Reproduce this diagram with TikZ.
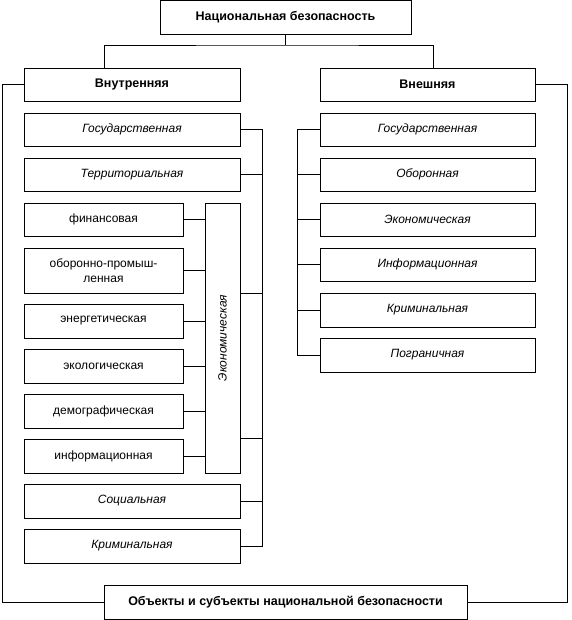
\documentclass[tikz,border=0pt]{standalone}
\usepackage{fontspec}
\setmainfont{Liberation Sans}
\usepackage{tikz}

\begin{document}
\begin{tikzpicture}[x=1pt,y=-1pt,
titulo/.style={draw=black,line width=0.9pt,fill=white,minimum width=215pt,minimum height=34pt,align=center,font=\fontsize{12.5}{14}\selectfont\bfseries,inner sep=2pt},
caja/.style={draw=black,line width=0.9pt,fill=white,minimum width=215pt,minimum height=33pt,align=center,font=\fontsize{12}{14}\selectfont\itshape,inner sep=2pt},
sub/.style={draw=black,line width=0.9pt,fill=white,minimum width=159pt,minimum height=33pt,align=center,font=\fontsize{12}{15}\selectfont,inner sep=2pt},
linea/.style={line width=0.7pt}
]
\useasboundingbox (0,0) rectangle (571,620);

\node[titulo,minimum width=251pt] (seguridad) at (285.5,17) {Национальная безопасность};
\node[titulo,minimum width=216pt,minimum height=33pt] (interna) at (132,84.5) {Внутренняя};
\node[titulo,minimum height=33pt] (externa) at (427.5,84.5) {Внешняя};
\node[titulo,minimum width=363pt] (objetos) at (285.5,602) {Объекты и субъекты национальной безопасности};

\node[caja,minimum width=216pt] (igos) at (132,129.5) {Государственная};
\node[caja,minimum width=216pt] (iter) at (132,174.5) {Территориальная};
\node[sub] (ifin) at (103.5,219.5) {финансовая};
\node[sub,minimum height=45pt] (iopk) at (103.5,270.5) {оборонно-промыш-\\ленная};
\node[sub,minimum height=34pt] (iene) at (103.5,321) {энергетическая};
\node[sub,minimum height=34pt] (ieco) at (103.5,366) {экологическая};
\node[sub,minimum height=34pt] (idem) at (103.5,411) {демографическая};
\node[sub,minimum height=34pt] (iinf) at (103.5,456) {информационная};
\node[caja,minimum width=270pt,minimum height=35pt,rotate=90] (iecon) at (222.5,338) {Экономическая};
\node[caja,minimum width=216pt,minimum height=34pt] (isoc) at (132,501) {Социальная};
\node[caja,minimum width=216pt,minimum height=34pt] (icri) at (132,546) {Криминальная};

\node[caja] (egos) at (427.5,129.5) {Государственная};
\node[caja] (eobo) at (427.5,174.5) {Оборонная};
\node[caja] (eeco) at (427.5,219.5) {Экономическая};
\node[caja] (einf) at (427.5,264.5) {Информационная};
\node[caja,minimum height=34pt] (ecri) at (427.5,310) {Криминальная};
\node[caja,minimum height=34pt] (epog) at (427.5,355) {Пограничная};

\coordinate (bifurca) at (285.5,45);
\coordinate (ejeizq) at (262,0);
\coordinate (ejeder) at (297,0);

\draw[linea] (seguridad) -- (bifurca);
\draw[linea] ([xshift=-28pt]interna.north) |- (bifurca) -| ([xshift=5.5pt]externa.north);
\draw[linea] (interna.west) -- ++(-21,0) |- (objetos.west);
\draw[linea] (externa.east) -- ++(32,0) |- (objetos.east);

\draw[linea] (igos.east) -- (igos.east -| ejeizq) -- (icri.east -| ejeizq) -- (icri.east);
\draw[linea] (iter.east) -- (iter.east -| ejeizq);
\draw[linea] (isoc.east) -- (isoc.east -| ejeizq);
\draw[linea] (iecon.south) ++(0,-45) -- ++(22,0);
\draw[linea] (iecon.south) ++(0,100) -- ++(22,0);
\draw[linea] (ifin) -- (ifin -| iecon.north);
\draw[linea] (iopk) -- (iopk -| iecon.north);
\draw[linea] (iene) -- (iene -| iecon.north);
\draw[linea] (ieco) -- (ieco -| iecon.north);
\draw[linea] (idem) -- (idem -| iecon.north);
\draw[linea] (iinf) -- (iinf -| iecon.north);

\draw[linea] (egos.west) -- (egos.west -| ejeder) -- (epog.west -| ejeder) -- (epog.west);
\draw[linea] (eobo.west) -- (eobo.west -| ejeder);
\draw[linea] (eeco.west) -- (eeco.west -| ejeder);
\draw[linea] (einf.west) -- (einf.west -| ejeder);
\draw[linea] (ecri.west) -- (ecri.west -| ejeder);
\end{tikzpicture}
\end{document}
